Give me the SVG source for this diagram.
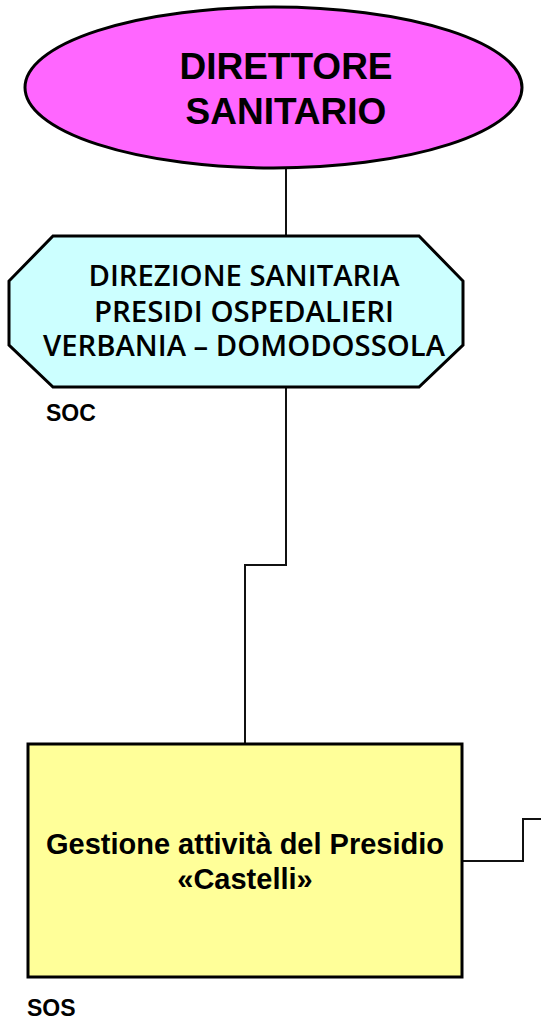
<svg xmlns="http://www.w3.org/2000/svg" width="541" height="1020" viewBox="0 0 541 1020">
<style>
.shape{stroke:#000;stroke-width:3;stroke-linejoin:miter}
.conn{fill:none;stroke:#111;stroke-width:2}
.arial{font-family:"Liberation Sans",Arial,sans-serif;font-weight:bold;fill:#000}
.tah{font-family:"Open Sans","Noto Sans",sans-serif;font-weight:600;fill:#000}
</style>
<rect width="541" height="1020" fill="#fff"/>
<g id="connectors">
<path class="conn" d="M286,168 V236"/>
<path class="conn" d="M286,387 V565 H245 V744"/>
<path class="conn" d="M462,861 H523 V819 H541"/>
</g>
<g id="direttore">
<ellipse class="shape" cx="273.5" cy="87.5" rx="248.5" ry="80.5" fill="#FF66FF"/>
<text class="arial" font-size="37" text-anchor="middle" x="286" y="79">DIRETTORE</text>
<text class="arial" font-size="37" text-anchor="middle" x="286" y="124">SANITARIO</text>
</g>
<g id="direzione">
<polygon class="shape" points="53,236 419,236 463,281 463,345 419,387 53,387 9,345 9,281" fill="#CCFFFF"/>
<text class="tah" font-size="28" text-anchor="middle" x="244" y="286" textLength="311" lengthAdjust="spacingAndGlyphs">DIREZIONE SANITARIA</text>
<text class="tah" font-size="28" text-anchor="middle" x="244" y="322" textLength="300" lengthAdjust="spacingAndGlyphs">PRESIDI OSPEDALIERI</text>
<text class="tah" font-size="28" text-anchor="middle" x="244" y="356" textLength="402" lengthAdjust="spacingAndGlyphs">VERBANIA – DOMODOSSOLA</text>
<text class="arial" font-size="23" x="46" y="421">SOC</text>
</g>
<g id="gestione">
<rect class="shape" x="28" y="744" width="434" height="233" fill="#FFFF99"/>
<text class="arial" font-size="29" text-anchor="middle" x="245" y="854">Gestione attività del Presidio</text>
<text class="arial" font-size="29" text-anchor="middle" x="245" y="889">«Castelli»</text>
<text class="arial" font-size="23" x="27" y="1016">SOS</text>
</g>
</svg>
